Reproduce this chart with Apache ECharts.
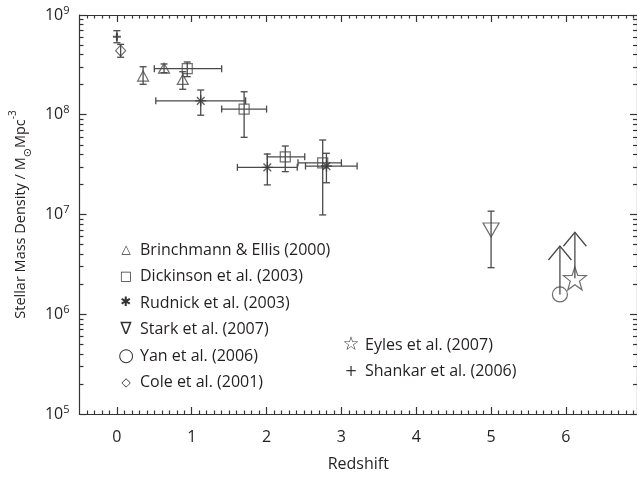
<!DOCTYPE html>
<html>
<head>
<meta charset="utf-8">
<script src="https://cdn.jsdelivr.net/npm/echarts@6/dist/echarts.min.js"></script>
<style>
  html, body { margin: 0; padding: 0; background: #fff; }
  #chart { width: 637px; height: 477px; }
</style>
</head>
<body>
<div id="chart"></div>
<script>
// Stellar mass density versus redshift, compiled from several surveys.

const studyNames = [
  'Brinchmann & Ellis (2000)',
  'Dickinson et al. (2003)',
  'Rudnick et al. (2003)',
  'Stark et al. (2007)',
  'Yan et al. (2006)',
  'Cole et al. (2001)',
  'Eyles et al. (2007)',
  'Shankar et al. (2006)'
];

// Brinchmann & Ellis (2000)
const brinchmannZ = [0.35, 0.63, 0.88];
const brinchmannRho = [2.44e8, 2.93e8, 2.26e8];
const brinchmannRhoLo = [2.02e8, 2.64e8, 1.80e8];
const brinchmannRhoHi = [3.03e8, 3.23e8, 2.70e8];

// Dickinson et al. (2003)
const dickinsonZ = [0.94, 1.70, 2.25, 2.75];
const dickinsonZLo = [0.50, 1.40, 2.01, 2.42];
const dickinsonZHi = [1.40, 2.00, 2.51, 3.00];
const dickinsonRho = [2.90e8, 1.14e8, 3.79e7, 3.30e7];
const dickinsonRhoLo = [2.41e8, 5.94e7, 2.69e7, 9.9e6];
const dickinsonRhoHi = [3.38e8, 1.70e8, 4.86e7, 5.58e7];

// Rudnick et al. (2003)
const rudnickZ = [1.12, 2.01, 2.80];
const rudnickZLo = [0.52, 1.61, 2.52];
const rudnickZHi = [1.72, 2.41, 3.21];
const rudnickRho = [1.38e8, 2.97e7, 3.06e7];
const rudnickRhoLo = [9.9e7, 1.98e7, 2.08e7];
const rudnickRhoHi = [1.77e8, 4.04e7, 4.11e7];

// Stark et al. (2007)
const starkZ = [5.0];
const starkRho = [7.0e6];
const starkRhoLo = [2.93e6];
const starkRhoHi = [1.08e7];

// Yan et al. (2006) - lower limit
const yanZ = [5.92];
const yanRho = [1.58e6];
const yanArrowTip = [4.83e6];

// Cole et al. (2001)
const coleZ = [0.05];
const coleRho = [4.39e8];
const coleRhoLo = [3.77e8];
const coleRhoHi = [5.08e8];

// Eyles et al. (2007) - lower limit
const eylesZ = [6.12];
const eylesRho = [2.29e6];
const eylesArrowTip = [6.64e6];

// Shankar et al. (2006)
const shankarZ = [0.0];
const shankarRho = [6.05e8];
const shankarRhoLo = [5.27e8];
const shankarRhoHi = [6.96e8];

// Axis ticks
const xMajorTicks = [0, 1, 2, 3, 4, 5, 6];
const yDecades = [5, 6, 7, 8, 9];

const INK = '#231f20';
const LINE = '#4a4a4a';
const FONT = 'Open Sans';

// Tick helpers (positions only)
const xMinorTicks = [];
for (let k = -4; k <= 69; k++) {
  if (k % 10 !== 0) xMinorTicks.push(k / 10);
}
const yMinorTicks = [];
for (let d = yDecades[0]; d < yDecades[yDecades.length - 1]; d++) {
  for (let m = 2; m <= 9; m++) yMinorTicks.push(d + Math.log10(m));
}

function rowsOf(z, zLo, zHi, rho, rhoLo, rhoHi) {
  return z.map((v, i) => [
    v,
    zLo ? zLo[i] : '-',
    zHi ? zHi[i] : '-',
    rho[i],
    rhoLo ? rhoLo[i] : '-',
    rhoHi ? rhoHi[i] : '-'
  ]);
}

function starPath() {
  const pts = [];
  for (let i = 0; i < 10; i++) {
    const r = i % 2 === 0 ? 10 : 4;
    const a = -Math.PI / 2 + i * Math.PI / 5;
    pts.push((10 + r * Math.cos(a)).toFixed(3) + ',' + (10 + r * Math.sin(a)).toFixed(3));
  }
  return 'path://M' + pts.join('L') + 'Z';
}

const ASTERISK = 'path://M5,0L5,10M0,5L10,5M1.5,1.5L8.5,8.5M1.5,8.5L8.5,1.5';
const PLUS = 'path://M5,0L5,10M0,5L10,5';

const hollow = { color: 'rgba(0,0,0,0)', borderColor: LINE, borderWidth: 1.2 };

function renderErrorBars(params, api) {
  const x = api.value(0), y = api.value(3);
  const xlo = api.value(1), xhi = api.value(2);
  const ylo = api.value(4), yhi = api.value(5);
  const style = { stroke: LINE, lineWidth: 1.3, fill: null };
  const cap = 3.5;
  const kids = [];
  if (!isNaN(ylo) && !isNaN(yhi)) {
    const a = api.coord([x, ylo]), b = api.coord([x, yhi]);
    kids.push({ type: 'line', shape: { x1: a[0], y1: a[1], x2: b[0], y2: b[1] }, style });
    kids.push({ type: 'line', shape: { x1: a[0] - cap, y1: a[1], x2: a[0] + cap, y2: a[1] }, style });
    kids.push({ type: 'line', shape: { x1: b[0] - cap, y1: b[1], x2: b[0] + cap, y2: b[1] }, style });
  }
  if (!isNaN(xlo) && !isNaN(xhi)) {
    const a = api.coord([xlo, y]), b = api.coord([xhi, y]);
    kids.push({ type: 'line', shape: { x1: a[0], y1: a[1], x2: b[0], y2: b[1] }, style });
    kids.push({ type: 'line', shape: { x1: a[0], y1: a[1] - cap, x2: a[0], y2: a[1] + cap }, style });
    kids.push({ type: 'line', shape: { x1: b[0], y1: b[1] - cap, x2: b[0], y2: b[1] + cap }, style });
  }
  return { type: 'group', children: kids };
}

function renderArrow(params, api) {
  const x = api.value(0);
  const base = api.coord([x, api.value(1)]);
  const tip = api.coord([x, api.value(2)]);
  const style = { stroke: LINE, lineWidth: 1.3, fill: null };
  return {
    type: 'group',
    children: [
      { type: 'line', shape: { x1: base[0], y1: base[1], x2: tip[0], y2: tip[1] }, style },
      { type: 'polyline', shape: { points: [[tip[0] - 11.5, tip[1] + 14], [tip[0], tip[1]], [tip[0] + 11.5, tip[1] + 14]] }, style }
    ]
  };
}

function errorSeries(name, rows) {
  return {
    name, type: 'custom', renderItem: renderErrorBars, data: rows,
    encode: { x: [0, 1, 2], y: [3, 4, 5] }, silent: true, z: 2
  };
}

function markerSeries(name, z, rho, symbol, size, extra) {
  return Object.assign({
    name, type: 'scatter', data: z.map((v, i) => [v, rho[i]]),
    symbol, symbolSize: size, itemStyle: hollow, z: 3, silent: true
  }, extra || {});
}

function arrowSeries(name, z, rho, tip) {
  return {
    name, type: 'custom', renderItem: renderArrow,
    data: z.map((v, i) => [v, rho[i], tip[i]]),
    encode: { x: 0, y: [1, 2] }, silent: true, z: 2
  };
}

const series = [
  errorSeries(studyNames[0], rowsOf(brinchmannZ, null, null, brinchmannRho, brinchmannRhoLo, brinchmannRhoHi)),
  errorSeries(studyNames[1], rowsOf(dickinsonZ, dickinsonZLo, dickinsonZHi, dickinsonRho, dickinsonRhoLo, dickinsonRhoHi)),
  errorSeries(studyNames[2], rowsOf(rudnickZ, rudnickZLo, rudnickZHi, rudnickRho, rudnickRhoLo, rudnickRhoHi)),
  errorSeries(studyNames[3], rowsOf(starkZ, null, null, starkRho, starkRhoLo, starkRhoHi)),
  errorSeries(studyNames[5], rowsOf(coleZ, null, null, coleRho, coleRhoLo, coleRhoHi)),
  errorSeries(studyNames[7], rowsOf(shankarZ, null, null, shankarRho, shankarRhoLo, shankarRhoHi)),
  arrowSeries(studyNames[4], yanZ, yanRho, yanArrowTip),
  arrowSeries(studyNames[6], eylesZ, eylesRho, eylesArrowTip),

  markerSeries(studyNames[0], brinchmannZ, brinchmannRho, 'triangle', [11, 10]),
  markerSeries(studyNames[1], dickinsonZ, dickinsonRho, 'rect', 10),
  markerSeries(studyNames[2], rudnickZ, rudnickRho, ASTERISK, 11,
    { itemStyle: { color: 'rgba(0,0,0,0)', borderColor: '#3a3a3a', borderWidth: 1.4 } }),
  markerSeries(studyNames[3], starkZ, starkRho, 'triangle', [16, 14], { symbolRotate: 180 }),
  markerSeries(studyNames[4], yanZ, yanRho, 'circle', 15),
  markerSeries(studyNames[5], coleZ, coleRho, 'diamond', [10, 11]),
  markerSeries(studyNames[6], eylesZ, eylesRho, starPath(), 23),
  markerSeries(studyNames[7], shankarZ, shankarRho, PLUS, 8,
    { itemStyle: { color: 'rgba(0,0,0,0)', borderColor: '#333', borderWidth: 2 } })
];

// Key, drawn as text rows inside the plot
const keyGlyphs = ['△', '□', '✱', '∇', '○', '◇', '☆', '+'];
const keyGlyphSizes = [12, 13, 13, 17, 18, 12, 19, 15];
const keyColumn = [0, 0, 0, 0, 0, 0, 1, 1];
const keyRow = [0, 1, 2, 3, 4, 5, 3.6, 4.6];
const keyOrigin = [[126, 250], [351, 250]];
const keyStep = 26.5;

const graphic = [];
studyNames.forEach((name, i) => {
  const o = keyOrigin[keyColumn[i]];
  const y = o[1] + keyRow[i] * keyStep;
  graphic.push({
    type: 'text', x: o[0], y, silent: true,
    style: { text: keyGlyphs[i], font: keyGlyphSizes[i] + 'px "DejaVu Sans"', fill: '#333',
             align: 'center', verticalAlign: 'middle' }
  });
  graphic.push({
    type: 'text', x: o[0] + 14, y, silent: true,
    style: { text: name, font: '16px "' + FONT + '"', fill: INK, align: 'left', verticalAlign: 'middle' }
  });
});

const axisLine = { show: true, onZero: false, lineStyle: { color: '#333', width: 1.2 } };
const noLine = { show: false, onZero: false };
const tickLine = { color: '#333', width: 1.2 };

const xBase = { type: 'value', min: -0.5, max: 6.95, splitLine: { show: false } };
const yLogBase = { type: 'log', logBase: 10, min: 1e5, max: 1e9, splitLine: { show: false } };
const yMinorBase = { type: 'value', min: 5, max: 9, splitLine: { show: false },
  axisLabel: { show: false }, axisLine: noLine };

const option = {
  backgroundColor: '#fff',
  animation: false,
  grid: { left: 78, top: 15, width: 562.5, height: 399 },
  xAxis: [
    Object.assign({}, xBase, {
      position: 'bottom', axisLine,
      axisTick: { inside: true, length: 7, customValues: xMajorTicks, lineStyle: tickLine },
      axisLabel: { customValues: xMajorTicks, margin: 15, fontSize: 16, fontFamily: FONT, color: INK },
      name: 'Redshift', nameLocation: 'middle', nameGap: 42,
      nameTextStyle: { fontSize: 16, fontFamily: FONT, color: INK }
    }),
    Object.assign({}, xBase, {
      position: 'bottom', axisLine: noLine, axisLabel: { show: false },
      axisTick: { inside: true, length: 3.5, customValues: xMinorTicks, lineStyle: tickLine }
    }),
    Object.assign({}, xBase, {
      position: 'top', axisLine, axisLabel: { show: false },
      axisTick: { inside: true, length: 7, customValues: xMajorTicks, lineStyle: tickLine }
    }),
    Object.assign({}, xBase, {
      position: 'top', axisLine: noLine, axisLabel: { show: false },
      axisTick: { inside: true, length: 3.5, customValues: xMinorTicks, lineStyle: tickLine }
    })
  ],
  yAxis: [
    Object.assign({}, yLogBase, {
      position: 'left', axisLine,
      axisTick: { inside: true, length: 7, lineStyle: tickLine },
      axisLabel: {
        margin: 10, color: INK, fontFamily: FONT,
        formatter: v => '{b|10}{s|' + Math.round(Math.log10(v)) + '}',
        rich: {
          b: { fontSize: 16, fontFamily: FONT, color: INK, lineHeight: 20 },
          s: { fontSize: 11, fontFamily: FONT, color: INK, lineHeight: 12, verticalAlign: 'top' }
        }
      },
      name: 'Stellar Mass Density / M{sub|⊙}Mpc{sup|-3}',
      nameLocation: 'middle', nameGap: 38, nameRotate: 90,
      nameTextStyle: {
        fontSize: 14.5, fontFamily: FONT, color: INK,
        rich: {
          sub: { fontSize: 11, fontFamily: 'DejaVu Sans', color: INK, lineHeight: 26, verticalAlign: 'bottom' },
          sup: { fontSize: 10, fontFamily: FONT, color: INK, lineHeight: 12, verticalAlign: 'top' }
        }
      }
    }),
    Object.assign({}, yMinorBase, {
      position: 'left',
      axisTick: { inside: true, length: 4, customValues: yMinorTicks, lineStyle: tickLine }
    }),
    Object.assign({}, yLogBase, {
      position: 'right', axisLine, axisLabel: { show: false },
      axisTick: { inside: true, length: 7, lineStyle: tickLine }
    }),
    Object.assign({}, yMinorBase, {
      position: 'right',
      axisTick: { inside: true, length: 4, customValues: yMinorTicks, lineStyle: tickLine }
    })
  ],
  graphic,
  series
};

const chart = echarts.init(document.getElementById('chart'), null, { renderer: 'canvas' });
chart.setOption(option);
</script>
</body>
</html>
